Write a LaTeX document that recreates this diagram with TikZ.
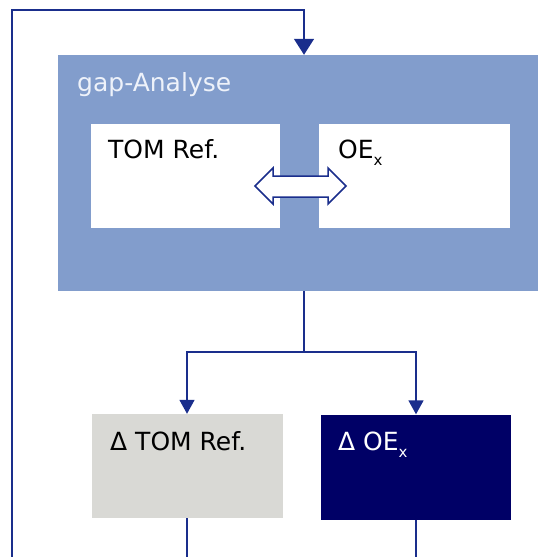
\documentclass[tikz,border=0pt]{standalone}
\usepackage{fontspec}
\setmainfont{DejaVu Sans}
\usetikzlibrary{arrows.meta}
\definecolor{bigblue}{HTML}{829DCC}
\definecolor{greybox}{HTML}{D9D9D5}
\definecolor{navybox}{HTML}{000066}
\definecolor{linecol}{HTML}{1A2E8C}
\definecolor{lighttxt}{HTML}{EEF2FA}
\newcommand{\subx}{\raisebox{-0.3em}{\fontsize{15}{15}\selectfont x}}
\begin{document}
\begin{tikzpicture}[x=1pt,y=-1pt,
  box/.style={rectangle,inner sep=0pt,draw=none},
  lbl/.style={anchor=base west,inner sep=0pt,font=\fontsize{25}{25}\selectfont},
  conn/.style={draw=linecol,line width=1.6pt},
  tipbig/.style={-{Triangle[width=20pt,length=16pt]}},
  tipsmall/.style={-{Triangle[width=15pt,length=14pt]}}]
\useasboundingbox (0,0) rectangle (538,557);
% boxes
\node[box,fill=bigblue,minimum width=480pt,minimum height=236pt] (big) at (298,173) {};
\node[box,fill=white,minimum width=189pt,minimum height=104pt] (wl) at (185.5,176) {};
\node[box,fill=white,minimum width=191pt,minimum height=104pt] (wr) at (414.5,176) {};
\node[box,fill=greybox,minimum width=191pt,minimum height=104pt] (grey) at (187,466) {};
\node[box,fill=navybox,minimum width=190pt,minimum height=105pt] (dark) at (416,467) {};
% labels
\node[lbl,text=lighttxt] (tgap) at (77,91) {gap-Analyse};
\node[lbl,text=black] (ttom) at (108,158) {TOM Ref.};
\node[lbl,text=black] (toe) at (338,158) {OE\subx};
\node[lbl,text=black] (tdtom) at (110,450) {Δ TOM Ref.};
\node[lbl,text=white] (tdoe) at (338,450) {Δ OE\subx};
% double arrow
\draw[draw=linecol,fill=white,line width=1.5pt,line join=miter]
  (255,186) -- (273,168) -- (273,176) -- (328,176) -- (328,168) -- (346,186)
  -- (328,204) -- (328,197) -- (273,197) -- (273,204) -- cycle;
% connectors
\coordinate (bl) at (12,557);
\coordinate (t) at (304,10);
\coordinate (s) at (304,352);
\coordinate (gb) at (188,557);
\coordinate (db) at (416,557);
\draw[conn,tipbig] (bl) |- (t) -- (t |- big.north);
\draw[conn] (big.south -| s) -- (s);
\draw[conn,tipsmall] (s) -| (grey.north);
\draw[conn,tipsmall] (s) -| (dark.north);
\draw[conn] (grey.south) -- (grey.south |- gb);
\draw[conn] (dark.south) -- (db);
\end{tikzpicture}
\end{document}
